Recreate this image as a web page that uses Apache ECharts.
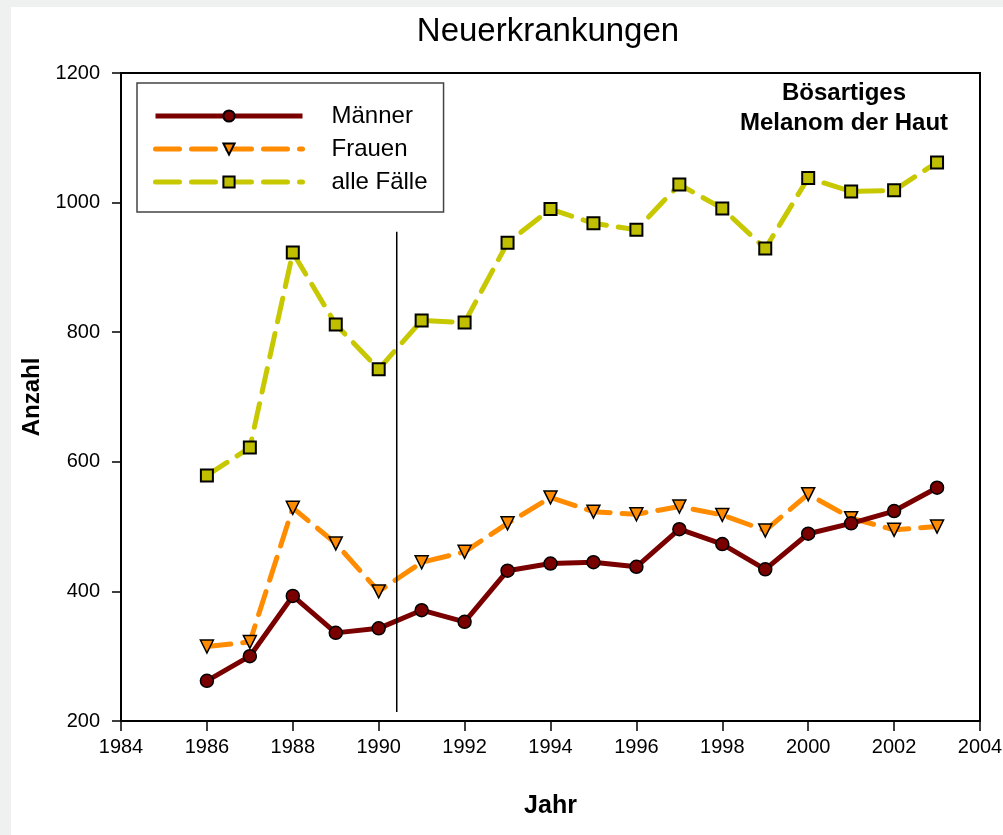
<!DOCTYPE html>
<html>
<head>
<meta charset="utf-8">
<script src="https://cdn.jsdelivr.net/npm/echarts@6/dist/echarts.min.js"></script>
<style>
  html, body { margin: 0; padding: 0; background: #eff1f0; }
  #main { width: 1003px; height: 835px; }
</style>
</head>
<body>
<div id="main"></div>
<script>
// Daten
var jahre = [1986, 1987, 1988, 1989, 1990, 1991, 1992, 1993, 1994, 1995, 1996, 1997, 1998, 1999, 2000, 2001, 2002, 2003];
var maenner = [262, 300, 393, 336, 343, 371, 353, 432, 443, 445, 438, 496, 473, 434, 489, 505, 524, 560];
var frauen = [315, 322, 529, 474, 400, 445, 461, 505, 545, 523, 519, 531, 518, 494, 550, 513, 495, 500];
var alleFaelle = [579, 622, 923, 812, 743, 818, 815, 938, 990, 968, 958, 1028, 991, 929, 1038, 1017, 1019, 1062];
var trennJahr = 1990.42;
var trennVon = 214, trennBis = 955;

function paare(werte) {
    var out = [];
    for (var i = 0; i < jahre.length; i++) {
        out.push([jahre[i], werte[i]]);
    }
    return out;
}

var font = 'Liberation Sans, Arial, sans-serif';
var myChart = echarts.init(document.getElementById('main'));

var option = {
    backgroundColor: '#eff1f0',
    animation: false,
    textStyle: { fontFamily: font },
    title: {
        text: 'Neuerkrankungen',
        left: 543, top: 10, textAlign: 'center',
        textStyle: { fontSize: 33, fontWeight: 'normal', color: '#000', fontFamily: font }
    },
    graphic: [
        { type: 'rect', z: -10, silent: true, shape: { x: 11, y: 7, width: 992, height: 828 }, style: { fill: '#fff' } },
        {
            type: 'text', left: 740, top: 78, z: 10,
            style: {
                text: 'Bösartiges\nMelanom der Haut', textAlign: 'center', x: 103,
                font: 'bold 24px ' + font, fill: '#000', lineHeight: 30
            }
        }
    ],
    legend: {
        left: 137, top: 83,
        orient: 'vertical',
        padding: [21, 16, 18, 16],
        itemWidth: 147, itemHeight: 14, itemGap: 9,
        borderColor: '#444', borderWidth: 1.5,
        backgroundColor: '#fff',
        lineStyle: { width: 5 },
        textStyle: { fontSize: 24, color: '#000', fontFamily: font, padding: [0, 0, 0, 24] },
        data: ['Männer', 'Frauen', 'alle Fälle']
    },
    grid: {
        left: 121, right: 23, top: 73, bottom: 114,
        outerBoundsMode: 'none',
        show: true, borderColor: '#000', borderWidth: 2, backgroundColor: '#fff'
    },
    xAxis: {
        type: 'value', min: 1984, max: 2004, interval: 2,
        name: 'Jahr', nameLocation: 'middle', nameGap: 73,
        nameTextStyle: { fontSize: 25, fontWeight: 'bold', color: '#000', fontFamily: font },
        axisLine: { lineStyle: { color: '#000', width: 2 } },
        axisTick: { length: 10, lineStyle: { color: '#000', width: 1.5 } },
        axisLabel: { fontSize: 20, color: '#000', margin: 16, formatter: function (v) { return String(v); } },
        splitLine: { show: false }
    },
    yAxis: {
        type: 'value', min: 200, max: 1200, interval: 200,
        name: 'Anzahl', nameLocation: 'middle', nameGap: 71,
        nameTextStyle: { fontSize: 24, fontWeight: 'bold', color: '#000', fontFamily: font },
        axisLine: { show: true, lineStyle: { color: '#000', width: 2 } },
        axisTick: { show: true, length: 9, lineStyle: { color: '#000', width: 1.5 } },
        axisLabel: { fontSize: 20, color: '#000', margin: 21, formatter: function (v) { return String(v); } },
        splitLine: { show: false }
    },
    series: [
        {
            name: 'alle Fälle', type: 'line', data: paare(alleFaelle), z: 2,
            symbol: 'rect', symbolSize: 12,
            lineStyle: { color: '#c8c800', width: 5, type: [24, 12], cap: 'round' },
            itemStyle: { color: '#bfbf00', borderColor: '#000', borderWidth: 2 }
        },
        {
            name: 'Frauen', type: 'line', data: paare(frauen), z: 3,
            symbol: 'triangle', symbolRotate: 180, symbolSize: 13,
            lineStyle: { color: '#ff8c00', width: 5, type: [24, 12], cap: 'round' },
            itemStyle: { color: '#ff8c00', borderColor: '#000', borderWidth: 1.5 }
        },
        {
            name: 'Männer', type: 'line', data: paare(maenner), z: 4,
            symbol: 'circle', symbolSize: 13,
            lineStyle: { color: '#7a0000', width: 5 },
            itemStyle: { color: '#7a0000', borderColor: '#000', borderWidth: 1.5 }
        },
        {
            name: 'Trennlinie', type: 'line', z: 5,
            data: [[trennJahr, trennVon], [trennJahr, trennBis]],
            symbol: 'none',
            lineStyle: { color: '#000', width: 1.5 }
        }
    ]
};

myChart.setOption(option);
</script>
</body>
</html>
